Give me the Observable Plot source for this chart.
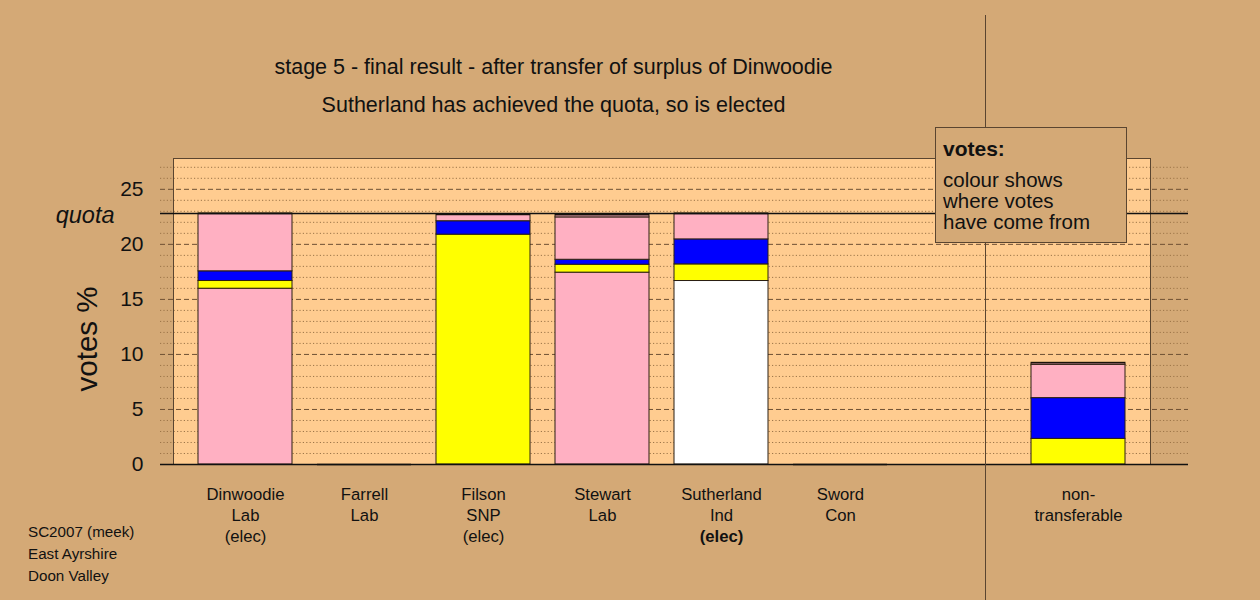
<!DOCTYPE html>
<html>
<head>
<meta charset="utf-8">
<script src="https://cdn.jsdelivr.net/npm/d3@7"></script>
<script src="https://cdn.jsdelivr.net/npm/@observablehq/plot@0.6"></script>
<style>
  html, body { margin: 0; padding: 0; background: #D4A976; }
  #chart svg { display: block; }
</style>
</head>
<body>
<div id="chart"></div>
<script>
// ---- data ----
const candidates = ["Dinwoodie", "Farrell", "Filson", "Stewart", "Sutherland", "Sword", "gap", "non-transferable"];
const labelLine1 = ["Dinwoodie", "Farrell", "Filson", "Stewart", "Sutherland", "Sword", "", "non-"];
const labelLine2 = ["Lab", "Lab", "SNP", "Lab", "Ind", "Con", "", "transferable"];
const electedEarlier = ["Dinwoodie", "Filson"];
const electedNow = ["Sutherland"];

const sources = ["Lab", "SNP", "Con", "Ind"];
const sourceColours = ["#FFB0C2", "#FFFF00", "#0000FF", "#FFFFFF"];

const stackBars = ["Dinwoodie", "Farrell", "Filson", "Stewart", "Sutherland", "Sword", "non-transferable"];
const stackFrom = [
  ["Lab", "SNP", "Con", "Lab"],
  ["Lab"],
  ["SNP", "Con", "Lab"],
  ["Lab", "SNP", "Con", "Lab", "Lab"],
  ["Ind", "SNP", "Con", "Lab"],
  ["Con"],
  ["SNP", "Con", "Lab", "Lab"]
];
const stackVotes = [
  [15.97, 0.70, 0.88, 5.25],
  [0],
  [20.88, 1.22, 0.62],
  [17.43, 0.72, 0.45, 3.85, 0.25],
  [16.67, 1.51, 2.27, 2.35],
  [0],
  [2.33, 3.70, 3.03, 0.18]
];
const quota = 22.8;
const yTicks = [0, 5, 10, 15, 20, 25];
const gridMinor = d3.range(1, 28).filter(v => v % 5 !== 0);
const gridMajor = [5, 10, 15, 20, 25];

const titleText = "stage 5 - final result - after transfer of surplus of Dinwoodie";
const subtitleText = "Sutherland has achieved the quota, so is elected";
const footLines = ["SC2007 (meek)", "East Ayrshire", "Doon Valley"];
const legendTitle = "votes:";
const legendLines = ["colour shows", "where votes", "have come from"];

// ---- build tables ----
const segments = [];
stackBars.forEach((b, i) => stackVotes[i].forEach((v, j) => segments.push({bar: b, from: stackFrom[i][j], votes: v})));
const totals = stackBars.map((b, i) => ({bar: b, total: d3.sum(stackVotes[i])}));
const labels = candidates.map((c, i) => ({c, l1: labelLine1[i], l2: labelLine2[i]}));

const font = "'Liberation Sans', Arial, Helvetica, sans-serif";
const labelSize = 16.7;

const plot = Plot.plot({
  width: 1260,
  height: 600,
  marginLeft: 173,
  marginRight: 110,
  marginTop: 158,
  marginBottom: 136,
  style: {background: "#D4A976", fontFamily: font, color: "#111"},
  x: {domain: candidates, padding: 0.21, axis: null},
  y: {domain: [0, 27.8], axis: null},
  color: {domain: sources, range: sourceColours},
  marks: [
    Plot.frame({fill: "#FFCC90", stroke: "none"}),
    Plot.ruleY(gridMinor, {stroke: "#9c7548", strokeWidth: 1, strokeDasharray: "1.2,2.2", insetLeft: -13, insetRight: -38}),
    Plot.ruleY(gridMajor, {stroke: "#6e5033", strokeWidth: 1, strokeDasharray: "5,3", insetLeft: -13, insetRight: -38}),
    Plot.frame({stroke: "#5a4530", strokeWidth: 1}),
    Plot.barY(segments, {x: "bar", y: "votes", fill: "from", stroke: "#2a1e12", strokeWidth: 1}),
    Plot.tickY(totals, {x: "bar", y: "total", stroke: "#1a120a", strokeWidth: 1.5}),
    Plot.ruleY([quota], {stroke: "#111", strokeWidth: 1.5, insetLeft: -13, insetRight: -38}),
    Plot.ruleY([0], {stroke: "#111", strokeWidth: 1.5, insetLeft: -13, insetRight: -38}),
    Plot.ruleX(["gap"], {stroke: "#5a4530", strokeWidth: 1, dx: 26, insetTop: -143, insetBottom: -136}),
    Plot.text(yTicks, {y: d => d, text: d => String(d), frameAnchor: "left", textAnchor: "end", dx: -30, fontSize: 21, fill: "#111"}),
    Plot.text([quota], {y: d => d, text: () => "quota", frameAnchor: "left", textAnchor: "end", dx: -59, dy: 2, fontSize: 23.5, fontStyle: "italic", fill: "#111"}),
    Plot.text(labels, {x: "c", text: "l1", frameAnchor: "bottom", dy: 35, fontSize: labelSize, fill: "#111"}),
    Plot.text(labels, {x: "c", text: "l2", frameAnchor: "bottom", dy: 56.5, fontSize: labelSize, fill: "#111"}),
    Plot.text(electedEarlier, {x: d => d, text: () => "(elec)", frameAnchor: "bottom", dy: 77.5, fontSize: labelSize, fill: "#111"}),
    Plot.text(electedNow, {x: d => d, text: () => "(elec)", frameAnchor: "bottom", dy: 77.5, fontSize: labelSize, fontWeight: "bold", fill: "#111"})
  ]
});

const svg = d3.select(plot);
// y-axis title
svg.append("text").attr("transform", "translate(97,339) rotate(-90)")
  .attr("text-anchor", "middle").attr("font-size", 29.5).attr("fill", "#111").attr("font-family", font).text("votes %");
// titles
svg.append("text").attr("x", 553.5).attr("y", 73.5).attr("text-anchor", "middle").attr("font-size", 21.5)
  .attr("fill", "#111").attr("font-family", font).text(titleText);
svg.append("text").attr("x", 553.5).attr("y", 111.5).attr("text-anchor", "middle").attr("font-size", 21.5)
  .attr("fill", "#111").attr("font-family", font).text(subtitleText);
// footnote
footLines.forEach((t, i) => svg.append("text").attr("x", 28).attr("y", 536.5 + i * 22).attr("font-size", 15.2)
  .attr("text-anchor", "start").attr("fill", "#111").attr("font-family", font).text(t));
// legend box
const lg = svg.append("g");
lg.append("rect").attr("x", 935.5).attr("y", 127.5).attr("width", 191).attr("height", 115)
  .attr("fill", "#D4A976").attr("stroke", "#5a4530").attr("stroke-width", 1);
lg.append("text").attr("x", 943).attr("y", 156).attr("font-size", 21).attr("font-weight", "bold")
  .attr("text-anchor", "start").attr("fill", "#111").attr("font-family", font).text(legendTitle);
legendLines.forEach((t, i) => lg.append("text").attr("x", 943).attr("y", 187 + i * 21).attr("font-size", 20.5)
  .attr("text-anchor", "start").attr("fill", "#111").attr("font-family", font).text(t));

document.getElementById("chart").appendChild(plot);
</script>
</body>
</html>
